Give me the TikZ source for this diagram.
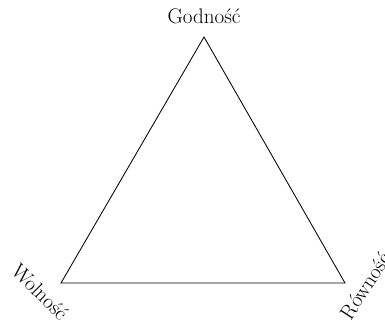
\documentclass[tikz,border=0pt]{standalone}
\usepackage{tikz}
\usetikzlibrary{positioning, calc}

\begin{document}
\begin{tikzpicture}[
    x=0.025cm, y=-0.025cm,
    % Estilos
    rotulo/.style={inner sep=0pt, font=\fontsize{15}{17}\selectfont},
    lado/.style={draw=black, line width=0.6pt, line join=miter}
]

% ==========================
% AREA DA FIGURA
% ==========================
\useasboundingbox (0,0) rectangle (385,327);

% ==========================
% VERTICES DO TRIANGULO
% ==========================
\coordinate (topo) at (204, 37);
\coordinate (esq)  at (61, 283);
\coordinate (dir)  at (345, 283);

% ==========================
% ROTULOS
% ==========================
\node[rotulo, anchor=base] (godnosc) at (204, 24) {Godność};
\node[rotulo, rotate=-45] (wolnosc) at (40, 292) {Wolność};
\node[rotulo, rotate=57] (rownosc) at (365, 286) {Równość};

% ==========================
% LADOS
% ==========================
\draw[lado] (topo) -- (esq) -- (dir) -- cycle;

\end{tikzpicture}
\end{document}
